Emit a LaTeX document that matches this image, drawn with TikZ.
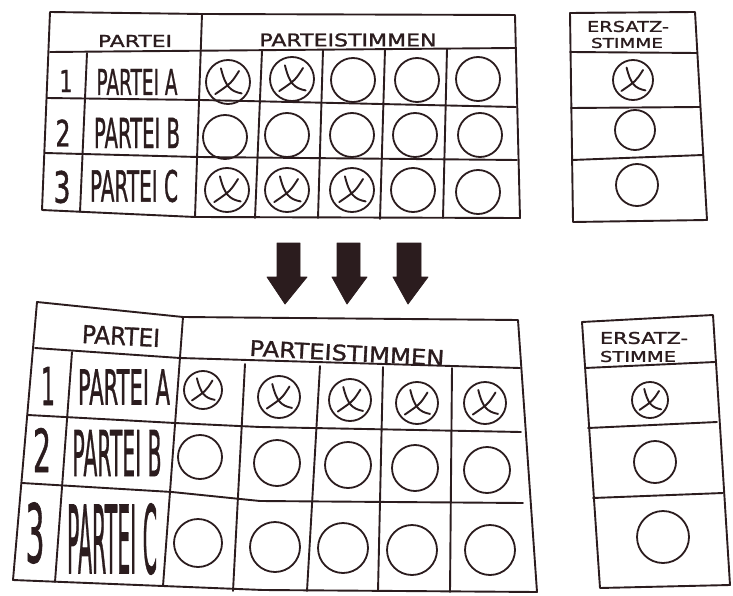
\documentclass[tikz,border=0pt]{standalone}
\usepackage{fontspec}
\newfontfamily\handfont{DejaVu Sans}[FakeBold=1.2]
\usepackage{graphicx}
\definecolor{ink}{RGB}{43,28,30}
\newcommand\handtext[3]{\resizebox{#1pt}{#2pt}{#3}}
\begin{document}
\begin{tikzpicture}[x=1pt,y=-1pt, line join=round, line cap=round,
  grid/.style={draw=ink, line width=1.9pt},
  ballot/.style={draw=ink, line width=1.8pt},
  crossmark/.style={draw=ink, line width=1.9pt},
  arrowshape/.style={fill=ink, draw=ink, line width=0.8pt},
  hand/.style={inner sep=0pt, text=ink, font=\handfont}]
\useasboundingbox[fill=white] (0,0) rectangle (733,596);

% ---------- top table ----------
\draw[grid] (50,12) -- (202,14) -- (515,15) -- (520,218) -- (195,217) -- (42,210) -- cycle;
\draw[grid] (50,52) -- (515,48);
\draw[grid] (202,14) -- (195,217);
\draw[grid] (87,53) -- (80,212);
\draw[grid] (47,98) -- (200,100) -- (516,107);
\draw[grid] (45,153) -- (198,157) -- (517,160);
\draw[grid] (262,51) -- (255,218);
\draw[grid] (323,50) -- (318,218);
\draw[grid] (385,49) -- (380,219);
\draw[grid] (447,49) -- (443,218);

\node[hand] (tpartei) at (135,41) {\handtext{74}{12}{PARTEI}};
\node[hand] (tstimmen) at (348,40) {\handtext{177}{13}{PARTEISTIMMEN}};
\node[hand] (tn1) at (66,81) {\handtext{13}{22}{1}};
\node[hand] (tn2) at (63,133) {\handtext{15}{27}{2}};
\node[hand] (tn3) at (62,187) {\handtext{17}{32}{3}};
\node[hand] (tpa) at (137,82) {\handtext{81}{26}{PARTEI A}};
\node[hand] (tpb) at (137,133) {\handtext{86}{30}{PARTEI B}};
\node[hand] (tpc) at (134,186) {\handtext{88}{32}{PARTEI C}};

% ---------- top replacement vote ----------
\draw[grid] (570,13) -- (695,12) -- (707,220) -- (573,222) -- cycle;
\draw[grid] (570,52) -- (697,53);
\draw[grid] (571,108) -- (700,107);
\draw[grid] (572,160) -- (703,155);
\node[hand] (te1) at (628,26.5) {\handtext{82}{11}{ERSATZ-}};
\node[hand] (te2) at (627,43) {\handtext{72}{10}{STIMME}};

% ---------- arrows ----------
\foreach \a/\b/\c/\d/\t in {277/300/267/307/285, 337/360/332/367/347, 397/421/393/428/408}{
  \fill[arrowshape] (\a,243) -- (\b,243) -- (\b,277) -- (\d,277) -- (\t,304) -- (\c,277) -- (\a,277) -- cycle;
}

% ---------- bottom table ----------
\draw[grid] (37,302) -- (183,317) -- (518,320) -- (537,592) -- (263,590) -- (13,580) -- cycle;
\draw[grid] (35,348) -- (180,358) -- (520,368);
\draw[grid] (183,317) -- (163,586);
\draw[grid] (72,352) -- (55,582);
\draw[grid] (28,415) -- (175,423) -- (260,427) -- (521,432);
\draw[grid] (22,483) -- (172,492) -- (260,501) -- (523,503);
\draw[grid] (245,364) -- (233,591);
\draw[grid] (320,366) -- (307,591);
\draw[grid] (383,367) -- (378,591);
\draw[grid] (452,368) -- (450,592);

\node[hand, rotate=-3] (bpartei) at (121,336) {\handtext{78}{18}{PARTEI}};
\node[hand, rotate=-3] (bstimmen) at (347,353) {\handtext{195}{16}{PARTEISTIMMEN}};
\node[hand] (bn1) at (48,386) {\handtext{14}{38}{1}};
\node[hand] (bn2) at (42,450) {\handtext{18}{44}{2}};
\node[hand] (bn3) at (35,533) {\handtext{19}{60}{3}};
\node[hand] (bpa) at (124,387) {\handtext{92}{35}{PARTEI A}};
\node[hand] (bpb) at (117,453) {\handtext{89}{46}{PARTEI B}};
\node[hand] (bpc) at (112,539) {\handtext{90}{70}{PARTEI C}};

% ---------- bottom replacement vote ----------
\draw[grid] (582,322) -- (713,315) -- (730,585) -- (600,588) -- cycle;
\draw[grid] (585,368) -- (715,362);
\draw[grid] (588,428) -- (717,422);
\draw[grid] (593,498) -- (723,493);
\node[hand] (be1) at (644,338) {\handtext{88}{12}{ERSATZ-}};
\node[hand] (be2) at (638,356.5) {\handtext{76}{11}{STIMME}};

% ---------- circles ----------
\foreach \x/\y/\r/\c in {
  228/82/22/1, 292/79/22/1, 353/80/22/0, 417/80/22/0, 478/79/22/0,
  225/137/22/0, 287/135/22/0, 352/135/22/0, 415/135/22/0, 480/135/22/0,
  227/190/22/1, 287/190/22/1, 352/190/22/1, 413/190/22/0, 478/192/22/0,
  633/80/20/1, 635/130/20/0, 637/185/21/0,
  203/390/19/1, 279/397/21/1, 350/400/21/1, 417/403/21/1, 485/403/21/1,
  200/457/22/0, 277/463/23/0, 348/465/23/0, 415/468/23/0, 487/470/23/0,
  198/543/24/0, 275/547/25/0, 343/548/25/0, 412/550/25/0, 490/550/25/0,
  650/400/18/1, 655/462/21/0, 663/537/26/0}{
  \draw[ballot] (\x,\y) circle[radius=\r];
  \ifnum\c=1
    \draw[crossmark, shift={(\x,\y)}]
      (-0.32*\r,-0.62*\r) .. controls (-0.12*\r,0.2*\r) and (0.1*\r,0.42*\r) .. (0.62*\r,0.52*\r)
      (0.5*\r,-0.5*\r) .. controls (0.15*\r,0.05*\r) .. (-0.58*\r,0.55*\r);
  \fi
}
\end{tikzpicture}
\end{document}
